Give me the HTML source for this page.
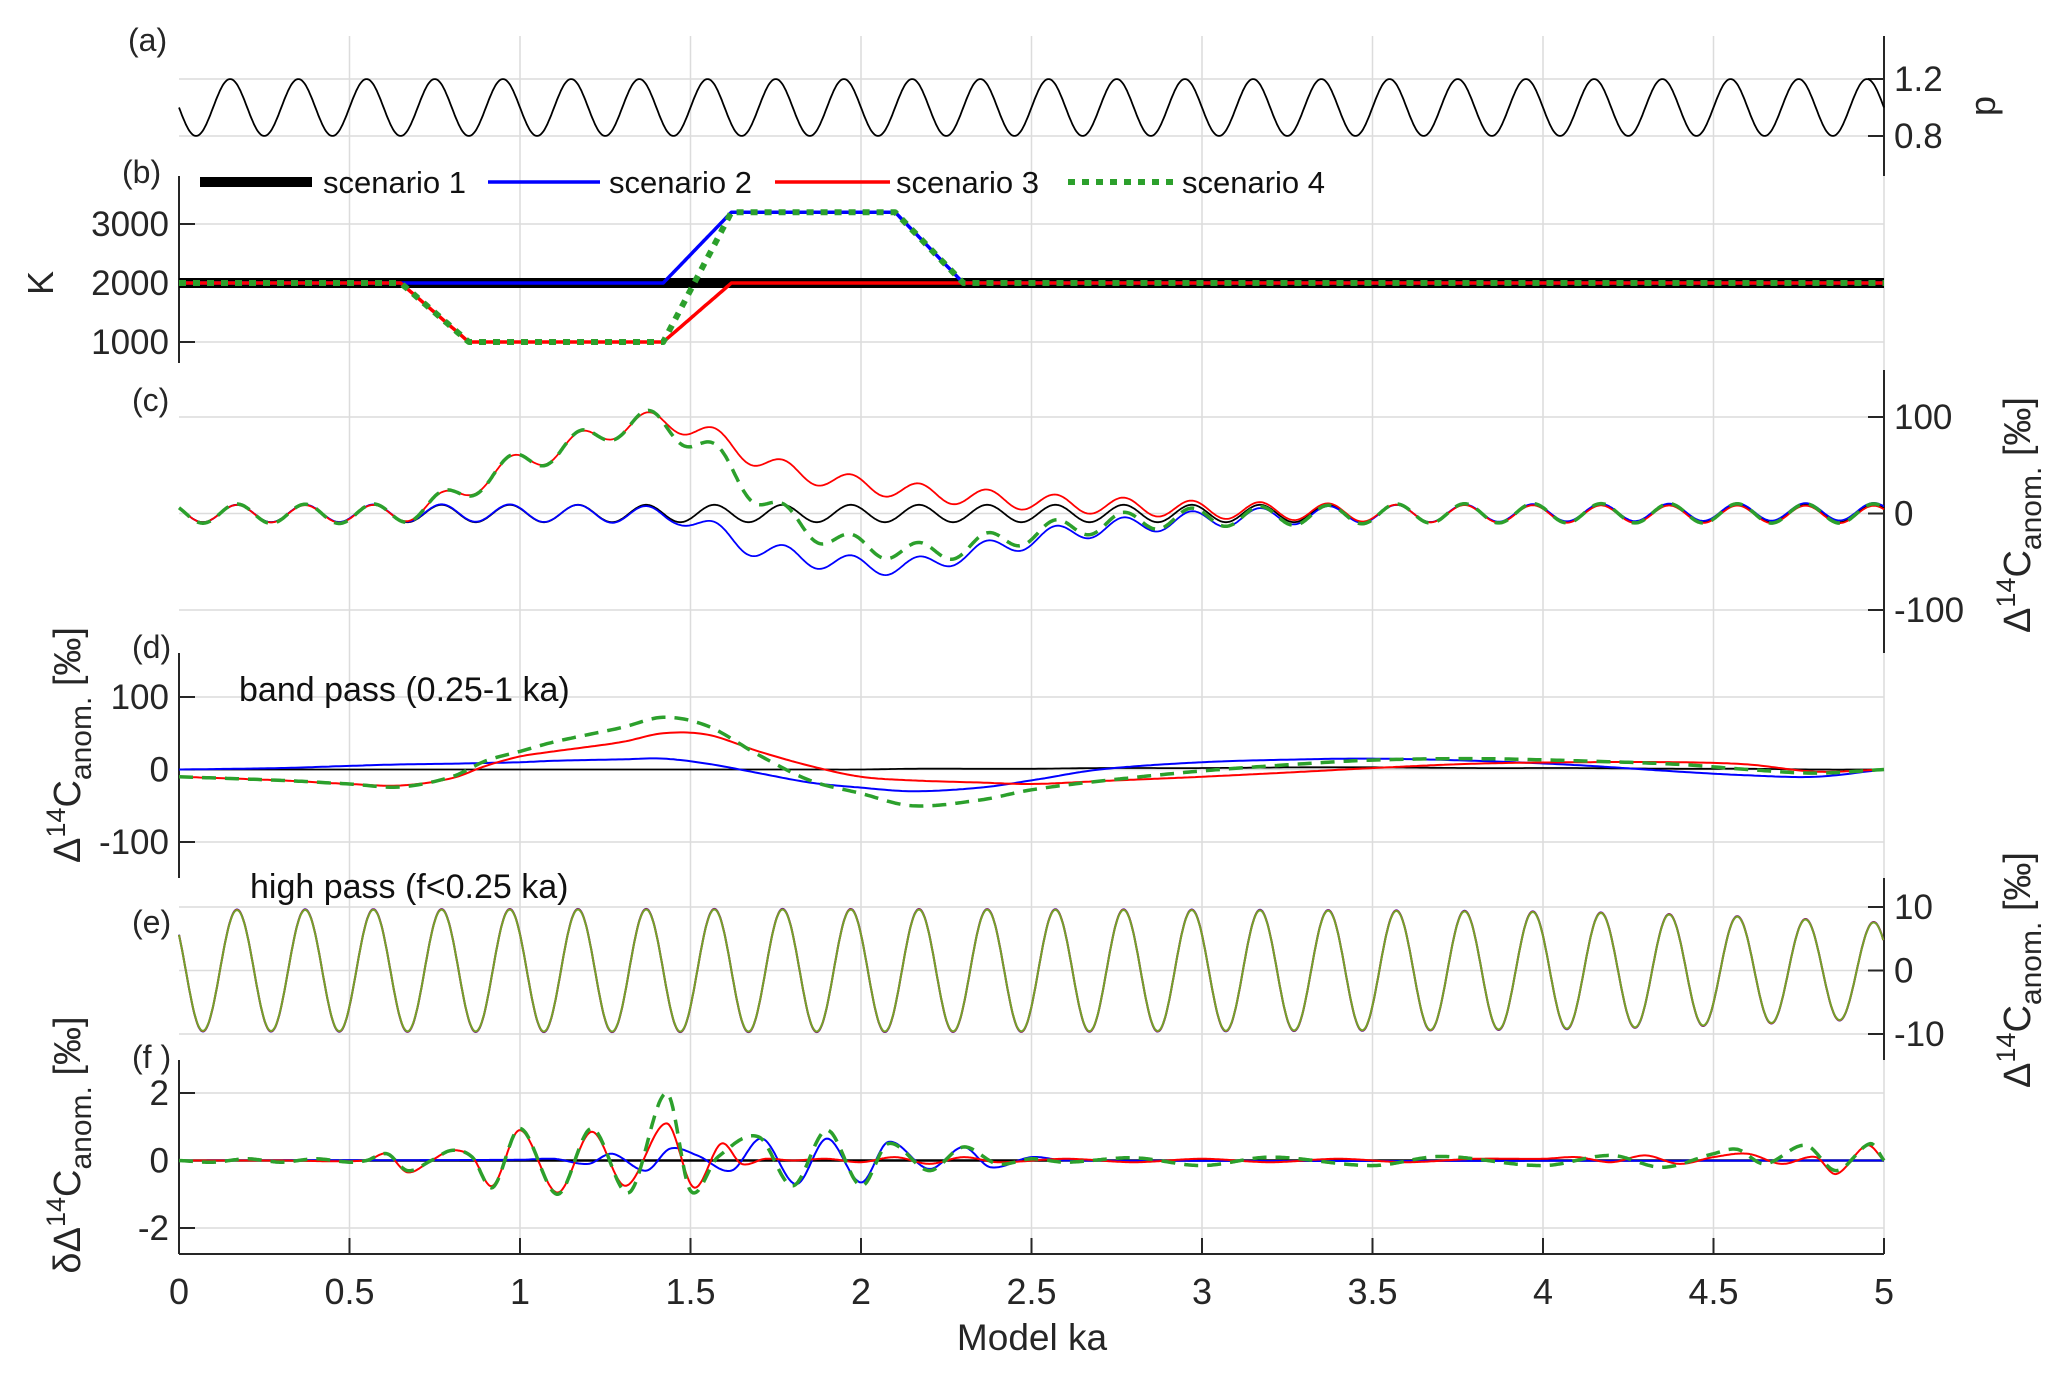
<!DOCTYPE html>
<html><head><meta charset="utf-8"><style>
html,body{margin:0;padding:0;background:#fff;}
svg{display:block;font-family:"Liberation Sans",Arial,sans-serif;}
</style></head><body>
<svg id="fig" width="2067" height="1373" viewBox="0 0 2067 1373" xmlns="http://www.w3.org/2000/svg"></svg>
<script>
// ---------- data ----------
const xTicks = [0,0.5,1,1.5,2,2.5,3,3.5,4,4.5,5];
const xTickLabels = ["0","0.5","1","1.5","2","2.5","3","3.5","4","4.5","5"];
const oscPeriod = 0.2;          // ka
const oscPhase = 0.17;          // ka (peak time)
// (a) forcing p
const pMean = 1.0, pAmp = 0.2, pPhase = 0.15;
// (b) K scenarios (knots)
const k1T = [0,5];                     const k1V = [2000,2000];
const k2T = [0,1.42,1.62,2.1,2.3,5];   const k2V = [2000,2000,3200,3200,2000,2000];
const k3T = [0,0.65,0.85,1.42,1.62,5]; const k3V = [2000,2000,1000,1000,2000,2000];
const k4T = [0,0.65,0.85,1.42,1.62,2.1,2.3,5]; const k4V = [2000,2000,1000,1000,3200,3200,2000,2000];
// (c) Δ14C anomaly baselines (knots) + oscillation amplitude
const cBlackT = [0,5]; const cBlackV = [0,0];
const cBlueT = [0,1.45,1.55,1.6,1.7,1.8,1.9,2.0,2.1,2.2,2.3,2.4,2.6,2.8,3.0,3.3,3.6,5];
const cBlueV = [0,-2,-15,-22,-38,-43,-50,-53,-55,-52,-42,-35,-20,-12,-6,-2,0,2];
const cRedT = [0,0.6,0.7,0.8,0.9,1.0,1.1,1.2,1.3,1.4,1.5,1.6,1.7,1.8,1.9,2.0,2.2,2.4,2.6,2.8,3.0,3.3,3.6,5];
const cRedV = [0,0,3,18,35,55,62,80,88,97,88,75,55,44,36,30,21,15,10,7,4,2,0,-1];
const cGreenT = [0,0.6,0.7,0.8,0.9,1.0,1.1,1.2,1.3,1.4,1.5,1.6,1.7,1.8,1.9,2.0,2.2,2.4,2.6,2.8,3.0,3.3,3.6,5];
const cGreenV = [0,0,3,18,35,55,62,80,88,97,75,55,15,-5,-25,-33,-40,-28,-15,-8,-4,-2,0,0];
const cAmp = [9,9,9,10];
// (d) band pass
const dT = [0,0.3,0.5,0.65,0.8,0.9,1.0,1.1,1.3,1.42,1.55,1.7,1.85,2.0,2.15,2.35,2.5,2.7,3.0,3.3,3.5,3.8,4.1,4.4,4.6,4.8,5];
const dBlack = [0,0,0,0,0,0,0,0,0,0,0,0,0,0,1,1,1,2,2,3,3,2,2,1,1,0,0];
const dBlue  = [0,2,5,7,8,9,10,12,14,15,8,-5,-18,-25,-30,-25,-15,0,10,14,15,12,6,-3,-8,-10,0];
const dRed   = [-10,-15,-20,-22,-12,5,18,25,38,50,48,25,5,-10,-15,-18,-20,-16,-10,-3,2,8,10,10,7,-3,0];
const dGreen = [-10,-15,-20,-24,-10,12,25,38,58,72,60,20,-15,-33,-50,-42,-28,-16,-2,8,13,15,12,7,0,-5,0];
// (e) high pass amplitude
const eT = [0,1,2,3,4,4.5,5];
const eAmp = [9.5,9.6,9.6,9.5,9.2,8.6,7.5];
// (f) difference
const fRedT = [0,0.3,0.55,0.61,0.67,0.74,0.8,0.86,0.92,1.0,1.11,1.21,1.31,1.43,1.51,1.59,1.65,1.72,1.8,1.9,2.0,2.1,2.2,2.3,2.4,2.6,2.8,3.0,3.2,3.4,3.6,3.8,4.0,4.1,4.2,4.3,4.4,4.5,4.6,4.7,4.8,4.86,4.95,5];
const fRedV = [0,0,0,0.2,-0.35,0,0.3,0.1,-0.75,0.9,-0.95,0.85,-0.75,1.1,-0.8,0.5,-0.1,0.05,0,0.05,-0.05,0.1,-0.1,0.1,-0.05,0.05,-0.05,0.05,-0.05,0.05,-0.05,0.05,0.05,0.1,-0.05,0.15,-0.1,0.1,0.2,-0.1,0.1,-0.4,0.45,0];
const fBlueT = [0,1.0,1.1,1.2,1.27,1.37,1.44,1.52,1.62,1.71,1.81,1.9,2.0,2.08,2.2,2.3,2.38,2.5,2.6,5];
const fBlueV = [0,0.02,0.05,-0.1,0.2,-0.3,0.35,0.15,-0.3,0.65,-0.7,0.65,-0.65,0.55,-0.25,0.4,-0.2,0.1,0,0];
const fGreenT = [0,0.1,0.2,0.3,0.4,0.5,0.55,0.61,0.67,0.74,0.8,0.86,0.92,1.0,1.11,1.21,1.32,1.43,1.5,1.58,1.7,1.8,1.9,2.0,2.08,2.2,2.3,2.4,2.5,2.6,2.8,3.0,3.2,3.5,3.7,4.0,4.2,4.35,4.5,4.57,4.65,4.77,4.86,4.96,5];
const fGreenV = [0,-0.05,0.05,-0.05,0.05,-0.05,0,0.2,-0.3,0,0.3,0.1,-0.8,0.95,-1.0,0.95,-0.95,2.0,-0.9,0.1,0.7,-0.75,0.9,-0.75,0.5,-0.3,0.4,-0.1,0.05,-0.05,0.08,-0.15,0.1,-0.15,0.12,-0.15,0.15,-0.2,0.2,0.33,-0.1,0.45,-0.3,0.5,0];

// ---------- layout ----------
const X0 = 179, X1 = 1884;
const sx = t => X0 + (t/5)*(X1-X0);
function lin(v0,y0,v1,y1){ return v => y0 + (v-v0)*(y1-y0)/(v1-v0); }
const yA = lin(0.8,136,1.2,79);
const yB = lin(1000,342,3000,224);
const yC = lin(-100,610,100,417);
const yD = lin(-100,842,100,697);
const yE = lin(-10,1034,10,907);
const yF = lin(-2,1228,2,1093);

const svg = document.getElementById('fig');
const NS = 'http://www.w3.org/2000/svg';
function el(tag, attrs, parent){ const e=document.createElementNS(NS,tag); for(const k in attrs) e.setAttribute(k,attrs[k]); (parent||svg).appendChild(e); return e; }

function linInterp(T,V,t){ if(t<=T[0]) return V[0]; for(let i=1;i<T.length;i++){ if(t<=T[i]){ const f=(t-T[i-1])/(T[i]-T[i-1]); return V[i-1]+f*(V[i]-V[i-1]); } } return V[V.length-1]; }
function smoothInterp(T,V,t){
  const n=T.length; if(t<=T[0]) return V[0]; if(t>=T[n-1]) return V[n-1];
  let i=1; while(T[i]<t) i++; i--;
  const h=T[i+1]-T[i], s=(t-T[i])/h;
  const m=k=>{ if(k<=0) return (V[1]-V[0])/(T[1]-T[0]); if(k>=n-1) return (V[n-1]-V[n-2])/(T[n-1]-T[n-2]); return (V[k+1]-V[k-1])/(T[k+1]-T[k-1]); };
  const h00=2*s*s*s-3*s*s+1,h10=s*s*s-2*s*s+s,h01=-2*s*s*s+3*s*s,h11=s*s*s-s*s;
  return h00*V[i]+h10*h*m(i)+h01*V[i+1]+h11*h*m(i+1);
}
function pathFrom(fn, yfn, dt){ let d=''; for(let t=0;t<=5.00001;t+=dt){ d+=(d?'L':'M')+sx(t).toFixed(1)+','+yfn(fn(t)).toFixed(1); } return d; }
const osc = (t,ph) => Math.cos(2*Math.PI*(t-ph)/oscPeriod);

// ---------- grid ----------
const grid = el('g',{});


xTicks.forEach(t=>{ if(t>0) el('line',{x1:sx(t),x2:sx(t),y1:36,y2:1254,stroke:'#dcdcdc','stroke-width':1.5},grid); });
const hGrid = [[yA,[0.8,1.2]],[yB,[1000,2000,3000]],[yC,[-100,0,100]],[yD,[-100,0,100]],[yE,[-10,0,10]],[yF,[-2,0,2]]];
hGrid.forEach(([f,vals])=>vals.forEach(v=>el('line',{x1:X0,x2:X1,y1:f(v),y2:f(v),stroke:'#dcdcdc','stroke-width':1.5},grid)));

// ---------- axes ----------
function axis(side, yTop, yBot, f, vals, labels, name){
  const g = el('g',{});
  
  
  const x = side==='left'?X0:X1;
  el('line',{x1:x,x2:x,y1:yTop,y2:yBot,stroke:'#262626','stroke-width':2},g);
  vals.forEach((v,i)=>{
    const y=f(v);
    el('line',{x1:x,x2:side==='left'?x+16:x-16,y1:y,y2:y,stroke:'#262626','stroke-width':2},g);
    const tx = el('text',{x:side==='left'?x-10:x+10,y:y+12,'font-size':35,fill:'#262626','text-anchor':side==='left'?'end':'start'},g);
    tx.textContent = labels[i];
  });
}
axis('right',36,176,yA,[1.2,0.8],['1.2','0.8'],'p-axis');
axis('left',176,363,yB,[3000,2000,1000],['3000','2000','1000'],'k-axis');
axis('right',370,653,yC,[100,0,-100],['100','0','-100'],'c-axis');
axis('left',653,878,yD,[100,0,-100],['100','0','-100'],'d-axis');
axis('right',878,1060,yE,[10,0,-10],['10','0','-10'],'e-axis');
axis('left',1060,1254,yF,[2,0,-2],['2','0','-2'],'f-axis');

// bottom x axis
const xa = el('g',{});


el('line',{x1:X0,x2:X1,y1:1254,y2:1254,stroke:'#262626','stroke-width':2},xa);
xTicks.forEach((t,i)=>{
  el('line',{x1:sx(t),x2:sx(t),y1:1254,y2:1238,stroke:'#262626','stroke-width':2},xa);
  const tx=el('text',{x:sx(t),y:1304,'font-size':36,fill:'#262626','text-anchor':'middle'},xa);
  tx.textContent=xTickLabels[i];
});
const xt = el('text',{x:1032,y:1350,'font-size':37,fill:'#262626','text-anchor':'middle'});


xt.textContent='Model ka';

// ---------- panel labels ----------
[['(a)',128,51],['(b)',122,183],['(c)',132,411],['(d)',132,658],['(e)',132,933],['(f )',132,1068]].forEach(([s,x,y])=>{
  const t=el('text',{x:x,y:y,'font-size':32,fill:'#262626'});
  
  
  t.textContent=s;
});

// ---------- axis titles ----------
function rotTitle(x,y,prefix,name){
  const t=el('text',{x:0,y:0,'font-size':38,fill:'#262626','text-anchor':'middle',transform:`translate(${x},${y}) rotate(-90)`});
  
  
  t.innerHTML = prefix+'Δ<tspan dy="-15" font-size="27">14</tspan><tspan dy="15">C</tspan><tspan dy="11" font-size="30">anom.</tspan><tspan dy="-11">  [‰]</tspan>';
}
rotTitle(2030,515,'','c-y-axis-title');
rotTitle(2030,970,'','e-y-axis-title');
rotTitle(80,745,'','d-y-axis-title');
rotTitle(80,1145,'δ','f-y-axis-title');
const pT=el('text',{x:0,y:0,'font-size':36,fill:'#262626','text-anchor':'middle',transform:'translate(1995,106) rotate(-90)'});


pT.textContent='p';
const kT=el('text',{x:0,y:0,'font-size':36,fill:'#262626','text-anchor':'middle',transform:'translate(53,283) rotate(-90)'});


kT.textContent='K';

const bp=el('text',{x:239,y:701,'font-size':34,fill:'#111'});


bp.textContent='band pass (0.25-1 ka)';
const hp=el('text',{x:250,y:898,'font-size':34,fill:'#111'});


hp.textContent='high pass (f<0.25 ka)';

// ---------- series ----------
function line(d,stroke,w,dash,name){
  const p=el('path',{d:d,fill:'none',stroke:stroke,'stroke-width':w,'stroke-linejoin':'round'});
  if(dash) p.setAttribute('stroke-dasharray',dash);
  
  
  return p;
}
const BLUE='#0000ff', RED='#ff0000', GREEN='#2ca02c';
// (a)
line(pathFrom(t=>pMean+pAmp*osc(t,pPhase),yA,0.004),'#000',1.8,null,'p-forcing-line');
// (b)
line(pathFrom(t=>linInterp(k1T,k1V,t),yB,0.01),'#000',10,null,'k-scenario-1');
line(pathFrom(t=>linInterp(k2T,k2V,t),yB,0.005),BLUE,3.5,null,'k-scenario-2');
line(pathFrom(t=>linInterp(k3T,k3V,t),yB,0.005),RED,3.5,null,'k-scenario-3');
line(pathFrom(t=>linInterp(k4T,k4V,t),yB,0.005),GREEN,6,'7,7','k-scenario-4');
// (c)
line(pathFrom(t=>smoothInterp(cBlackT,cBlackV,t)+cAmp[0]*osc(t,oscPhase),yC,0.004),'#000',1.8,null,'c-scenario-1');
line(pathFrom(t=>smoothInterp(cBlueT,cBlueV,t)+cAmp[1]*osc(t,oscPhase),yC,0.004),BLUE,1.8,null,'c-scenario-2');
line(pathFrom(t=>smoothInterp(cRedT,cRedV,t)+cAmp[2]*osc(t,oscPhase),yC,0.004),RED,1.8,null,'c-scenario-3');
line(pathFrom(t=>smoothInterp(cGreenT,cGreenV,t)+cAmp[3]*osc(t,oscPhase),yC,0.004),GREEN,3.5,'14,9','c-scenario-4');
// (d)
line(pathFrom(t=>smoothInterp(dT,dBlack,t),yD,0.01),'#000',1.8,null,'d-scenario-1');
line(pathFrom(t=>smoothInterp(dT,dBlue,t),yD,0.01),BLUE,2,null,'d-scenario-2');
line(pathFrom(t=>smoothInterp(dT,dRed,t),yD,0.01),RED,2,null,'d-scenario-3');
line(pathFrom(t=>smoothInterp(dT,dGreen,t),yD,0.01),GREEN,3.5,'14,9','d-scenario-4');
// (e)
line(pathFrom(t=>smoothInterp(eT,eAmp,t)*osc(t,oscPhase)*1.01,yE,0.003),BLUE,2,null,'e-scenario-2');
line(pathFrom(t=>smoothInterp(eT,eAmp,t)*osc(t,oscPhase)*1.005,yE,0.003),RED,2,null,'e-scenario-3');
line(pathFrom(t=>smoothInterp(eT,eAmp,t)*osc(t,oscPhase),yE,0.003),'#73a12c',2,null,'e-scenario-4');
// (f)
line(pathFrom(t=>0,yF,0.05),'#000',2.5,null,'f-scenario-1');
line(pathFrom(t=>smoothInterp(fBlueT,fBlueV,t),yF,0.004),BLUE,2,null,'f-scenario-2');
line(pathFrom(t=>smoothInterp(fRedT,fRedV,t),yF,0.004),RED,2,null,'f-scenario-3');
line(pathFrom(t=>smoothInterp(fGreenT,fGreenV,t),yF,0.004),GREEN,3.5,'14,9','f-scenario-4');

// ---------- legend ----------
const lg = el('g',{});


const legendItems = [['scenario 1','#000',10,null,200,312,323],['scenario 2',BLUE,3.5,null,488,600,609],['scenario 3',RED,3.5,null,775,890,896],['scenario 4',GREEN,6,'7,7',1068,1173,1182]];
legendItems.forEach(([lab,c,w,dash,a,b,tx])=>{
  const g=el('g',{},lg);
  
  
  const l=el('line',{x1:a,x2:b,y1:182,y2:182,stroke:c,'stroke-width':w},g);
  if(dash) l.setAttribute('stroke-dasharray',dash);
  const t=el('text',{x:tx,y:193,'font-size':31,fill:'#111'},g);
  t.textContent=lab;
});
</script>
</body></html>
